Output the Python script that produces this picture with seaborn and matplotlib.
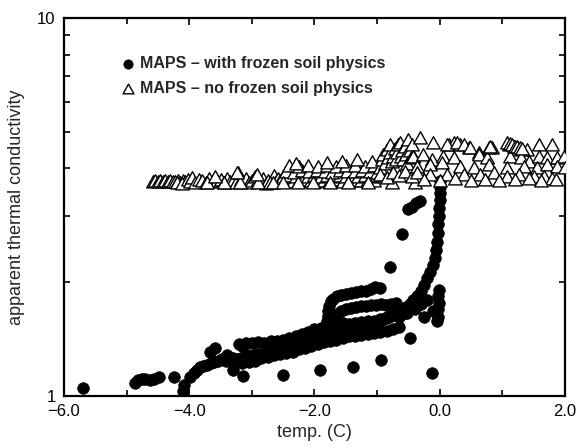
import numpy as np
import pandas as pd
import seaborn as sns
import matplotlib
matplotlib.use("Agg")
import matplotlib.pyplot as plt
from matplotlib.path import Path
from matplotlib.markers import MarkerStyle
from matplotlib.ticker import FixedLocator, FixedFormatter, LogLocator, NullFormatter

# ---------------- data ----------------
frozen_x = [
    -5.70,
    -4.86, -4.82, -4.76, -4.70, -4.62, -4.56, -4.48, -4.24, -4.10, -4.08,
    -3.98, -3.93, -3.88, -3.83, -3.78, -3.72, -3.66, -3.60, -3.54, -3.48, -3.42, -3.36, -3.30,
    -3.24, -3.18, -3.12, -3.06, -3.00, -2.94, -2.88, -2.82, -2.76, -2.70, -2.64, -2.58, -2.52,
    -2.46, -2.40, -2.34, -2.28, -2.22, -2.16, -2.10, -2.04, -1.98, -1.92, -1.86, -1.80, -1.74,
    -1.68, -1.62, -1.56, -1.50, -1.44, -1.38, -1.32, -1.26, -1.20, -1.14, -1.08, -1.02, -0.96,
    -0.90, -0.84, -0.78, -0.72, -0.66, -0.60, -0.54, -0.48, -0.42, -0.36, -0.30, -0.25, -0.20,
    -0.15, -0.11, -0.08, -0.06, -0.04, -0.03, -0.02, -0.01, -0.01, 0.00, 0.00, 0.00, 0.00,
    -3.20, -3.10, -3.00, -2.90, -2.80, -2.70, -2.60, -2.50, -2.40, -2.30, -2.20, -2.10, -2.00,
    -1.90, -1.80,
    -3.16, -3.05, -2.95, -2.85, -2.75, -2.65, -2.55, -2.45, -2.35, -2.25, -2.15, -2.05, -1.95,
    -1.85, -1.75, -1.65, -1.55, -1.45, -1.35, -1.25, -1.15, -1.05, -0.95, -0.85, -0.75, -0.65,
    -1.80, -1.79, -1.78, -1.77, -1.74, -1.70, -1.64, -1.58, -1.50, -1.42, -1.34, -1.26, -1.18,
    -1.10, -1.03, -0.96,
    -1.70, -1.64, -1.58, -1.50, -1.42, -1.34, -1.26, -1.18, -1.10, -1.02, -0.94, -0.86, -0.78, -0.70,
    -1.75, -1.65, -1.55, -1.45, -1.35, -1.25, -1.15, -1.05, -0.95, -0.85, -0.75, -0.65, -0.55,
    -0.02, -0.02, -0.01, -0.02, -0.01, -0.05, -0.10,
    -0.53, -0.47, -0.40, -0.30, -0.25, -0.20, -0.35, -0.45,
    -3.67, -3.59, -3.40, -3.16, -3.30,
    -3.14, -2.50, -1.91, -1.39, -0.93, -0.13,
    -0.80, -0.61, -0.50, -0.44, -0.38, -0.31,
]
frozen_y = [
    1.05,
    1.08, 1.10, 1.11, 1.11, 1.10, 1.11, 1.12, 1.12, 1.03, 1.07,
    1.12, 1.15, 1.17, 1.19, 1.20, 1.21, 1.22, 1.23, 1.24, 1.25, 1.24, 1.25, 1.26,
    1.25, 1.26, 1.27, 1.28, 1.27, 1.29, 1.28, 1.30, 1.31, 1.31, 1.32, 1.33, 1.33,
    1.34, 1.35, 1.36, 1.36, 1.38, 1.39, 1.40, 1.41, 1.42, 1.43, 1.44, 1.45, 1.46,
    1.46, 1.47, 1.48, 1.49, 1.50, 1.50, 1.51, 1.52, 1.53, 1.54, 1.55, 1.57, 1.58,
    1.60, 1.61, 1.63, 1.65, 1.67, 1.69, 1.72, 1.75, 1.79, 1.84, 1.90, 1.97, 2.05,
    2.13, 2.22, 2.32, 2.43, 2.56, 2.70, 2.85, 3.00, 3.15, 3.30, 3.45, 3.58, 3.70,
    1.37, 1.38, 1.38, 1.39, 1.38, 1.40, 1.40, 1.41, 1.42, 1.44, 1.46, 1.48, 1.50,
    1.51, 1.53,
    1.22, 1.23, 1.24, 1.26, 1.27, 1.28, 1.29, 1.30, 1.31, 1.33, 1.34, 1.36, 1.37,
    1.39, 1.40, 1.41, 1.42, 1.44, 1.44, 1.45, 1.46, 1.47, 1.48, 1.49, 1.50, 1.52,
    1.58, 1.63, 1.68, 1.73, 1.78, 1.81, 1.84, 1.85, 1.86, 1.87, 1.88, 1.89, 1.90,
    1.92, 1.94, 1.93,
    1.62, 1.65, 1.68, 1.70, 1.71, 1.72, 1.73, 1.73, 1.74, 1.74, 1.75, 1.74, 1.75, 1.76,
    1.55, 1.54, 1.56, 1.55, 1.56, 1.57, 1.58, 1.58, 1.60, 1.62, 1.64, 1.62, 1.66,
    1.62, 1.70, 1.76, 1.84, 1.91, 1.58, 1.68,
    1.655, 1.42, 1.70, 1.75, 1.62, 1.80, 1.78, 1.72,
    1.31, 1.34, 1.28, 1.36, 1.17,
    1.13, 1.14, 1.17, 1.195, 1.245, 1.15,
    2.20, 2.68, 3.12, 3.17, 3.24, 3.27,
]

nofrozen_x = [
    -4.58, -4.54, -4.50, -4.46, -4.42, -4.38, -4.34, -4.30, -4.26, -4.22, -4.18, -4.14, -4.10,
    -4.06, -4.20, -4.12,
    -4.02, -3.98, -3.95, -3.90, -3.85, -3.80, -3.74, -3.68, -3.62, -3.56, -3.50, -3.45, -3.40,
    -3.35, -3.30, -3.26, -3.22, -3.18, -3.14, -3.10, -3.05, -3.00, -2.95, -2.90, -2.86, -2.82,
    -2.78, -2.74, -2.70, -2.65, -2.62, -2.58,
    -3.72, -3.45, -3.19, -2.90, -2.71, -3.59, -3.24, -2.92,
    -2.55, -2.45, -2.35, -2.25, -2.15, -2.05, -1.95, -1.85, -1.75, -1.65, -1.55, -1.45, -1.35,
    -1.25, -1.15, -1.05,
    -2.50, -2.40, -2.30, -2.20, -2.10, -2.00, -1.90, -1.80, -1.70, -1.60, -1.50, -1.40, -1.30,
    -1.20, -1.10, -1.00,
    -2.45, -2.32, -2.20, -2.08, -1.96, -1.84, -1.72, -1.60, -1.48, -1.36, -1.24, -1.12, -1.00,
    -2.40, -2.25, -2.10, -1.95, -1.80, -1.65, -1.50, -1.35, -1.20, -1.05,
    -2.30, -1.80, -1.56, -1.32, -1.08,
    -2.66, -2.50, -2.26, -2.02, -1.75, -1.46, -1.14, -0.77, -0.39,
    -0.95, -0.92, -0.90, -0.88, -0.85, -0.83, -0.80, -0.79, -0.76, -0.74, -0.72, -0.70, -0.68,
    -0.66, -0.63, -0.62, -0.60, -0.58, -0.56, -0.54, -0.52, -0.50, -0.48, -0.46, -0.44, -0.42,
    -0.31,
    -0.95, -0.85, -0.75, -0.65, -0.55, -0.45, -0.35,
    -0.10, 0.14, 0.22, 0.33, 0.46, 0.83, 1.10, 1.18, 1.29, 1.39, 1.58, 1.79,
    0.11, 0.27, 0.38, 0.49, 0.62,
    -0.42, -0.26, -0.13, 0.06, 0.22, 0.62, 0.75, 1.12, 1.29, 1.42, 1.58, 1.71, 1.87, 1.98,
    -0.37, -0.15, 0.03, 0.33, 0.54, 0.78, 1.07, 1.34, 1.55, 1.71, 1.87, 2.00,
    -0.37, -0.15, 0.11, 0.38, 0.65, 0.86, 1.07, 1.26, 1.50, 1.66, 1.79,
    -0.25, 0.00, 0.25, 0.50, 0.72, 0.95, 1.20, 1.42, 1.62, 1.85,
    1.08, 1.12, 1.16, 1.20, 1.24, 1.28, 1.32, 0.79, 0.81,
]
nofrozen_y = [
    3.69, 3.70, 3.69, 3.70, 3.68, 3.70, 3.69, 3.70, 3.69, 3.68, 3.70, 3.67, 3.70,
    3.69, 3.65, 3.64,
    3.72, 3.68, 3.78, 3.66, 3.72, 3.70, 3.67, 3.75, 3.68, 3.70, 3.72, 3.65, 3.74,
    3.68, 3.70, 3.66, 3.88, 3.72, 3.68, 3.75, 3.66, 3.70, 3.80, 3.72, 3.68, 3.76,
    3.64, 3.70, 3.66, 3.83, 3.68, 3.74,
    3.66, 3.66, 3.66, 3.66, 3.66, 3.80, 3.88, 3.84,
    3.70, 3.71, 3.69, 3.70, 3.72, 3.70, 3.69, 3.71, 3.70, 3.72, 3.69, 3.70, 3.71,
    3.70, 3.72, 3.70,
    3.80, 3.82, 3.79, 3.81, 3.80, 3.83, 3.79, 3.81, 3.80, 3.82, 3.80, 3.81, 3.79,
    3.82, 3.80, 3.81,
    3.92, 3.90, 3.94, 3.91, 3.93, 3.92, 3.90, 3.94, 3.92, 3.91, 3.93, 3.92, 3.90,
    4.05, 4.03, 4.06, 4.04, 4.05, 4.03, 4.06, 4.05, 4.04, 4.06,
    4.12, 4.13, 4.16, 4.21, 4.16,
    3.66, 3.66, 3.66, 3.66, 3.66, 3.66, 3.66, 3.66, 3.66,
    4.00, 4.20, 4.35, 4.10, 4.47, 4.25, 4.40, 4.61, 4.15, 4.30, 4.50, 4.20, 4.40,
    4.62, 4.66, 4.30, 4.45, 4.20, 4.55, 4.35, 4.10, 4.76, 4.45, 4.25, 4.60, 4.30,
    4.80,
    3.85, 3.78, 3.90, 3.82, 3.92, 3.80, 3.95,
    4.66, 4.61, 4.66, 4.61, 4.52, 4.52, 4.61, 4.57, 4.48, 4.48, 4.61, 4.61,
    4.61, 4.66, 4.61, 4.52, 4.39,
    4.30, 4.35, 4.21, 4.30, 4.25, 4.35, 4.25, 4.30, 4.25, 4.16, 4.30, 4.25, 4.25, 4.30,
    4.04, 4.08, 4.13, 4.04, 4.00, 4.08, 4.00, 4.04, 4.00, 4.08, 4.04, 4.00,
    3.88, 3.84, 3.84, 3.84, 3.84, 3.88, 3.80, 3.84, 3.80, 3.80, 3.76,
    3.72, 3.70, 3.74, 3.71, 3.73, 3.70, 3.72, 3.74, 3.70, 3.72,
    4.66, 4.63, 4.60, 4.57, 4.55, 4.52, 4.50, 4.52, 4.55,
]

x_ticks = [-6.0, -4.0, -2.0, 0.0, 2.0]
x_ticklabels = ["\u22126.0", "\u22124.0", "\u22122.0", "0.0", "2.0"]
x_minor = [-5.0, -3.0, -1.0, 1.0]
y_ticks = [1, 10]
y_ticklabels = ["1", "10"]

label_frozen = "MAPS \u2013 with frozen soil physics"
label_nofrozen = "MAPS \u2013 no frozen soil physics"

# ---------------- plotting ----------------
sns.set_style("ticks")
plt.rcParams["font.family"] = ["Liberation Sans", "DejaVu Sans"]

fig = plt.figure(figsize=(5.78, 4.48), dpi=100)
ax = fig.add_axes([0.1107, 0.116, 0.8668, 0.844])

df_f = pd.DataFrame({"x": frozen_x, "y": frozen_y})
df_n = pd.DataFrame({"x": nofrozen_x, "y": nofrozen_y})

tri = MarkerStyle(Path([(-1.0, -0.8), (1.0, -0.8), (0.0, 1.0), (-1.0, -0.8)],
                       [Path.MOVETO, Path.LINETO, Path.LINETO, Path.CLOSEPOLY]))

sns.scatterplot(data=df_f, x="x", y="y", ax=ax, marker="o", s=70,
                color="black", edgecolor="black", linewidth=0.5,
                label=label_frozen, zorder=2)
sns.scatterplot(data=df_n, x="x", y="y", ax=ax, marker=tri, s=95,
                facecolor="white", edgecolor="black", linewidth=1.0,
                label=label_nofrozen, zorder=3)

ax.set_yscale("log")
ax.set_xlim(-6, 2)
ax.set_ylim(1, 10)

ax.xaxis.set_major_locator(FixedLocator(x_ticks))
ax.xaxis.set_major_formatter(FixedFormatter(x_ticklabels))
ax.xaxis.set_minor_locator(FixedLocator(x_minor))
ax.yaxis.set_major_locator(FixedLocator(y_ticks))
ax.yaxis.set_major_formatter(FixedFormatter(y_ticklabels))
ax.yaxis.set_minor_locator(LogLocator(base=10, subs=np.arange(2, 10)))
ax.yaxis.set_minor_formatter(NullFormatter())

ax.tick_params(which="both", direction="in", top=True, right=True,
               width=1.2, colors="black", labelsize=12, pad=6)
ax.tick_params(which="major", length=5)
ax.tick_params(which="minor", length=4)
for sp in ax.spines.values():
    sp.set_linewidth(1.6)
    sp.set_color("black")

ax.set_xlabel("temp. (C)", fontsize=13, labelpad=3)
ax.set_ylabel("apparent thermal conductivity", fontsize=13, labelpad=9)

leg = ax.legend(loc="upper left", bbox_to_anchor=(0.099, 0.915), frameon=False,
                handlelength=1.0, handletextpad=0.25, borderaxespad=0,
                labelspacing=0.6,
                prop={"weight": "bold", "size": 11.5}, markerscale=0.8)

fig.savefig("out.png", dpi=100)
